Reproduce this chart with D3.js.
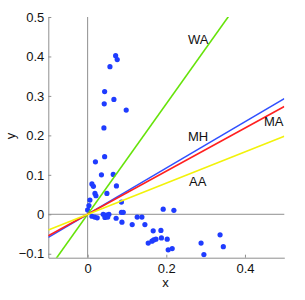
<!DOCTYPE html>
<html><head><meta charset="utf-8">
<script src="https://cdn.jsdelivr.net/npm/d3@7"></script>
<style>body{margin:0;background:#fff}svg{display:block}text{font-family:"Liberation Sans",Arial,sans-serif}</style>
</head><body><svg id="c" width="305" height="300"></svg>
<script>
const pointsX = [0.0712,0.0752,0.0567,0.0432,0.0668,0.0422,0.0981,0.0414,0.0432,0.0198,0.0351,0.0651,0.0109,0.0147,0.0732,0.0186,0.0211,0.0490,0.0058,0.0859,0.0033,0.0,0.0109,0.018,0.0244,0.0396,0.0478,0.0541,0.044,0.0511,0.0724,0.0859,0.0905,0.0872,0.1133,0.126,0.138,0.1456,0.154,0.1667,0.1863,0.1634,0.168,0.1736,0.1876,0.2023,0.2048,0.215,0.2884,0.2956,0.3367,0.345,0.1921,0.2193];
const pointsY = [0.402,0.392,0.374,0.311,0.291,0.280,0.264,0.219,0.146,0.133,0.100,0.101,0.077,0.071,0.072,0.053,0.047,0.053,0.036,0.031,0.022,0.011,-0.005,-0.007,-0.009,0.0,-0.002,0.0,-0.008,-0.007,-0.010,0.005,0.005,-0.020,-0.026,-0.007,-0.007,-0.026,-0.073,-0.042,-0.041,-0.068,-0.065,-0.063,-0.060,-0.063,-0.090,-0.087,-0.073,-0.102,-0.052,-0.082,0.013,0.010];
const lineNames = ["WA","MH","MA","AA"];
const lineSlopes = [1.40,0.586,0.546,0.395];
const lineColors = ["#66e30a","#3050ff","#ff2020","#f2f20a"];
const xTicks = [0,0.2,0.4];
const yTicks = [-0.1,0,0.1,0.2,0.3,0.4,0.5];
const xDomain = [-0.1,0.5], yDomain = [-0.11,0.5];

const svg = d3.select("#c");
const x = d3.scaleLinear().domain(xDomain).range([48.3,284.3]);
const y = d3.scaleLinear().domain(yDomain).range([257.7,17]);
const fmt = v => v<0 ? "\u2212"+Math.abs(v) : String(v);
const grey = "#8f8f8f";

svg.append("clipPath").attr("id","clip").append("rect")
  .attr("x",x(xDomain[0])).attr("y",y(yDomain[1]))
  .attr("width",x(xDomain[1])-x(xDomain[0])).attr("height",y(yDomain[0])-y(yDomain[1]));

// zero lines
svg.append("line").attr("x1",x(0)).attr("x2",x(0)).attr("y1",y(yDomain[1])).attr("y2",y(yDomain[0]))
  .attr("stroke",grey).attr("stroke-width",1);
svg.append("line").attr("x1",x(xDomain[0])).attr("x2",x(xDomain[1])).attr("y1",y(0)).attr("y2",y(0))
  .attr("stroke",grey).attr("stroke-width",1);

// axes
const ax = svg.append("g").attr("transform",`translate(0,${y(yDomain[0])})`)
  .call(d3.axisBottom(x).tickValues(xTicks).tickFormat(fmt).tickSizeInner(-3).tickSizeOuter(0).tickPadding(6));
const ay = svg.append("g").attr("transform",`translate(${x(xDomain[0])},0)`)
  .call(d3.axisLeft(y).tickValues(yTicks).tickFormat(fmt).tickSizeInner(-3).tickSizeOuter(0).tickPadding(4));
[ax,ay].forEach(g=>{
  g.select(".domain").attr("stroke",grey);
  g.selectAll(".tick line").attr("stroke",grey);
  g.selectAll("text").attr("font-size",13).attr("fill","#111").attr("font-family","'Liberation Sans',Arial,sans-serif");
});

// points
svg.append("g").attr("clip-path","url(#clip)").selectAll("circle").data(pointsX.map((v,i)=>[v,pointsY[i]]))
  .join("circle").attr("cx",d=>x(d[0])).attr("cy",d=>y(d[1])).attr("r",2.6).attr("fill","#1f3cff");

// fit lines
const lg = svg.append("g").attr("clip-path","url(#clip)");
lineSlopes.forEach((s,i)=>{
  lg.append("line").attr("x1",x(xDomain[0])).attr("y1",y(s*xDomain[0]))
    .attr("x2",x(xDomain[1])).attr("y2",y(s*xDomain[1]))
    .attr("stroke",lineColors[i]).attr("stroke-width",1.6);
});

// line labels
const labelPos = {WA:[188,44],MH:[188,141],MA:[264,126],AA:[189,186]};
lineNames.forEach(n=>{
  svg.append("text").attr("x",labelPos[n][0]).attr("y",labelPos[n][1]).attr("font-size",13).attr("fill","#111").text(n);
});

// axis titles
svg.append("text").attr("x",165.5).attr("y",287).attr("text-anchor","middle").attr("font-size",13).attr("fill","#111").text("x");
svg.append("text").attr("transform","translate(14.5,136) rotate(-90)").attr("text-anchor","middle").attr("font-size",13).attr("fill","#111").text("y");
</script></body></html>
